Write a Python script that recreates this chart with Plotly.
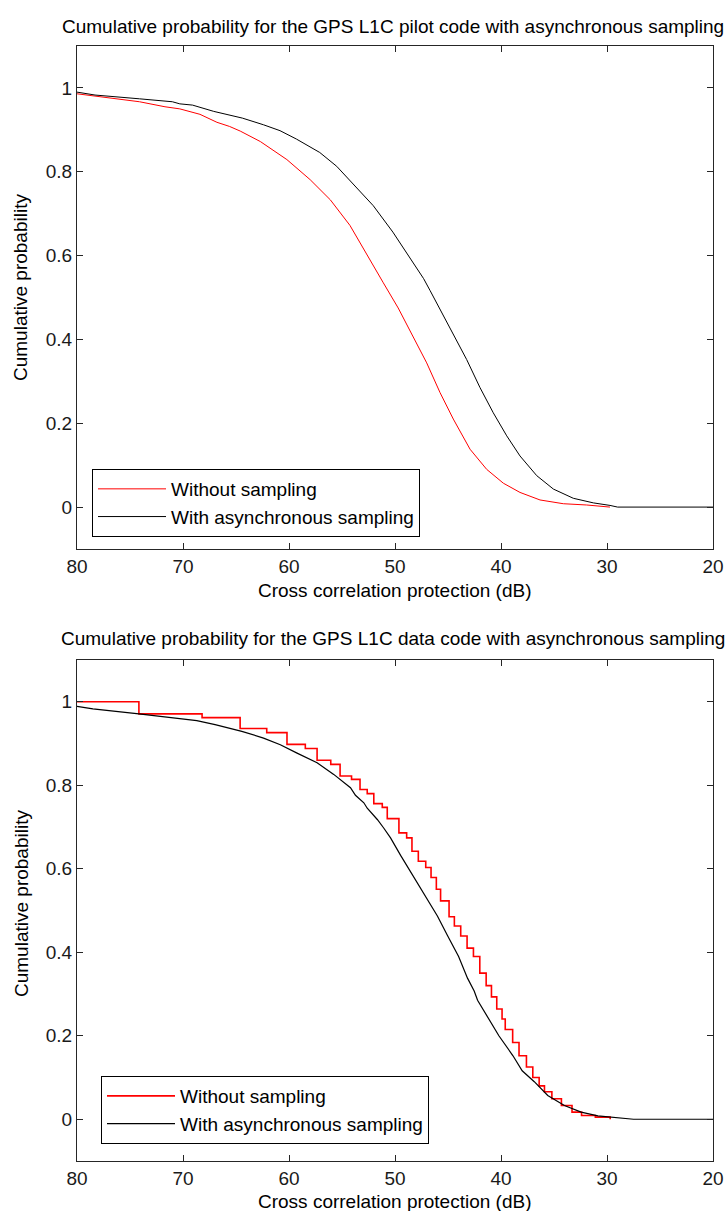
import plotly.graph_objects as go

# ---------------- data ----------------
# Top panel: pilot code
pilot_async_x = [80, 78.3, 74.1, 71.0, 70.3, 69.1, 67.1, 65.6, 64.4, 62.4, 60.85, 59.3, 57.1,
                 55.5, 53.9, 52.05, 50.2, 49.2, 48.3, 47.3, 46.7, 45.75, 44.5, 43.24, 41.98,
                 40.73, 39.46, 38.21, 36.63, 35.06, 33.18, 31.29, 29.72, 29.0, 20.0]
pilot_async_y = [0.99, 0.983, 0.974, 0.967, 0.962, 0.959, 0.944, 0.936, 0.928, 0.912, 0.898,
                 0.878, 0.846, 0.813, 0.769, 0.719, 0.656, 0.617, 0.583, 0.545, 0.517, 0.472,
                 0.41, 0.352, 0.285, 0.225, 0.17, 0.122, 0.075, 0.043, 0.021, 0.01, 0.004,
                 0.0, 0.0]

pilot_nosamp_x = [80, 77.8, 74.1, 71.7, 70.3, 68.4, 66.8, 65.6, 64.6, 62.7, 60.2, 58.0, 56.1,
                  54.25, 52.7, 51.1, 49.7, 48.27, 47.01, 45.75, 44.5, 42.92, 41.35,
                  39.78, 38.21, 36.32, 34.12, 31.92, 29.72]
pilot_nosamp_y = [0.986, 0.979, 0.967, 0.955, 0.95, 0.937, 0.918, 0.908, 0.897, 0.872, 0.829,
                  0.781, 0.733, 0.672, 0.603, 0.535, 0.475, 0.406, 0.344, 0.273, 0.21,
                  0.138, 0.09, 0.057, 0.035, 0.017, 0.008, 0.005, 0.0]

# Bottom panel: data code
data_async_x = [80, 78.5, 74.16, 71.07, 68.7, 66.97, 64.45, 62.4, 60.82, 59.24, 57.35, 55.78,
                54.2, 53.73, 52.94, 52.62, 51.67, 51.05, 50.42, 49.47, 47.89, 46.94, 46.32,
                46.0, 45.05, 44.0, 43.16, 42.53, 42.21, 41.27, 40.2, 38.87, 38.0, 36.86,
                35.59, 34.02, 32.44, 30.86, 28.97, 27.5, 20.0]
data_async_y = [0.989, 0.983, 0.971, 0.961, 0.955, 0.945, 0.929, 0.913, 0.897, 0.877, 0.854,
                0.826, 0.794, 0.776, 0.758, 0.745, 0.718, 0.697, 0.674, 0.632, 0.567, 0.527,
                0.503, 0.487, 0.44, 0.39, 0.338, 0.307, 0.285, 0.245, 0.2, 0.152, 0.116,
                0.09, 0.057, 0.033, 0.017, 0.008, 0.004, 0.0, 0.0]

data_nosamp_x = [80, 74.16, 68.2, 64.61, 62.1, 60.19, 58.46, 57.35, 56.06, 55.18, 54.1, 53.3,
                 52.62, 52.0, 51.2, 50.73, 49.63, 48.9, 48.4, 47.8, 47.1, 46.6, 46.1, 45.7,
                 44.9, 44.4, 43.8, 43.2, 42.6, 42.0, 41.4, 40.9, 40.4, 39.9, 39.6, 38.9,
                 38.3, 37.6, 37.0, 36.4, 35.9, 35.2, 34.3, 33.3, 32.4, 31.1, 29.7]
data_nosamp_y = [1.0, 0.971, 0.962, 0.936, 0.926, 0.898, 0.888, 0.86, 0.85, 0.822, 0.814,
                 0.79, 0.78, 0.756, 0.747, 0.72, 0.686, 0.674, 0.642, 0.618, 0.603, 0.579,
                 0.551, 0.523, 0.485, 0.463, 0.439, 0.41, 0.39, 0.35, 0.32, 0.293, 0.264,
                 0.24, 0.215, 0.184, 0.152, 0.125, 0.1, 0.08, 0.066, 0.049, 0.033, 0.017,
                 0.009, 0.005, 0.0]

x_ticks = [80, 70, 60, 50, 40, 30, 20]
y_ticks = [0, 0.2, 0.4, 0.6, 0.8, 1]
y_tick_text = ["0", "0.2", "0.4", "0.6", "0.8", "1"]

titles = ["Cumulative probability for the GPS L1C pilot code with asynchronous sampling",
          "Cumulative probability for the GPS L1C data code with asynchronous sampling"]
x_title = "Cross correlation protection (dB)"
y_title = "Cumulative probability"
names = ["Without sampling", "With asynchronous sampling"]

# ---------------- figure ----------------
W, H = 727, 1211
FONT = "Liberation Sans, Arial, sans-serif"
FS = 19

def px(x):
    return x / W

def py(y):
    return 1 - y / H

fig = go.Figure()

fig.add_trace(go.Scatter(x=pilot_nosamp_x, y=pilot_nosamp_y, mode="lines", name=names[0],
                         line=dict(color="#ff0000", width=1), xaxis="x", yaxis="y",
                         legend="legend"))
fig.add_trace(go.Scatter(x=pilot_async_x, y=pilot_async_y, mode="lines", name=names[1],
                         line=dict(color="#000000", width=1), xaxis="x", yaxis="y",
                         legend="legend"))
fig.add_trace(go.Scatter(x=data_nosamp_x, y=data_nosamp_y, mode="lines", name=names[0],
                         line=dict(color="#ff0000", width=1.6, shape="hv"), xaxis="x2",
                         yaxis="y2", legend="legend2"))
fig.add_trace(go.Scatter(x=data_async_x, y=data_async_y, mode="lines", name=names[1],
                         line=dict(color="#000000", width=1.2), xaxis="x2", yaxis="y2",
                         legend="legend2"))

x_dom = [px(77), px(713)]
top_dom = [py(549), py(46)]
bot_dom = [py(1161), py(660)]

axis_common = dict(showline=True, linecolor="#262626", linewidth=1, mirror="ticks",
                   ticks="inside", ticklen=6, tickcolor="#262626", tickwidth=1,
                   showgrid=False, zeroline=False, automargin=False,
                   tickfont=dict(family=FONT, size=FS, color="#1a1a1a"))

fig.update_layout(
    width=W, height=H,
    margin=dict(l=0, r=0, t=0, b=0, autoexpand=False),
    paper_bgcolor="white", plot_bgcolor="white",
    font=dict(family=FONT, size=FS, color="#000000"),
    xaxis=dict(domain=x_dom, anchor="y", range=[80, 20], tickvals=x_ticks, **axis_common),
    yaxis=dict(domain=top_dom, anchor="x", range=[-0.1, 1.1], tickvals=y_ticks,
               ticktext=y_tick_text, **axis_common),
    xaxis2=dict(domain=x_dom, anchor="y2", range=[80, 20], tickvals=x_ticks, **axis_common),
    yaxis2=dict(domain=bot_dom, anchor="x2", range=[-0.1, 1.1], tickvals=y_ticks,
                ticktext=y_tick_text, **axis_common),
    legend=dict(x=px(92), y=py(469), xanchor="left", yanchor="top",
                bordercolor="#000000", borderwidth=1, bgcolor="white",
                font=dict(family=FONT, size=FS, color="#000000"), itemwidth=68,
                tracegroupgap=0),
    legend2=dict(x=px(101), y=py(1076), xanchor="left", yanchor="top",
                 bordercolor="#000000", borderwidth=1, bgcolor="white",
                 font=dict(family=FONT, size=FS, color="#000000"), itemwidth=68,
                 tracegroupgap=0),
    showlegend=True,
)

ann = []
for t, yc in zip(titles, [27, 638]):
    ann.append(dict(text=t, x=px(393), y=py(yc), xref="paper", yref="paper",
                    xanchor="center", yanchor="middle", showarrow=False,
                    font=dict(family=FONT, size=FS, color="#000000")))
for yc in [590, 1201]:
    ann.append(dict(text=x_title, x=px(395), y=py(yc), xref="paper", yref="paper",
                    xanchor="center", yanchor="middle", showarrow=False,
                    font=dict(family=FONT, size=FS, color="#000000")))
for yc in [288, 904]:
    ann.append(dict(text=y_title, x=px(21), y=py(yc), xref="paper", yref="paper",
                    xanchor="center", yanchor="middle", showarrow=False, textangle=-90,
                    font=dict(family=FONT, size=FS, color="#000000")))
fig.update_layout(annotations=ann)

fig.write_html("out.html")
